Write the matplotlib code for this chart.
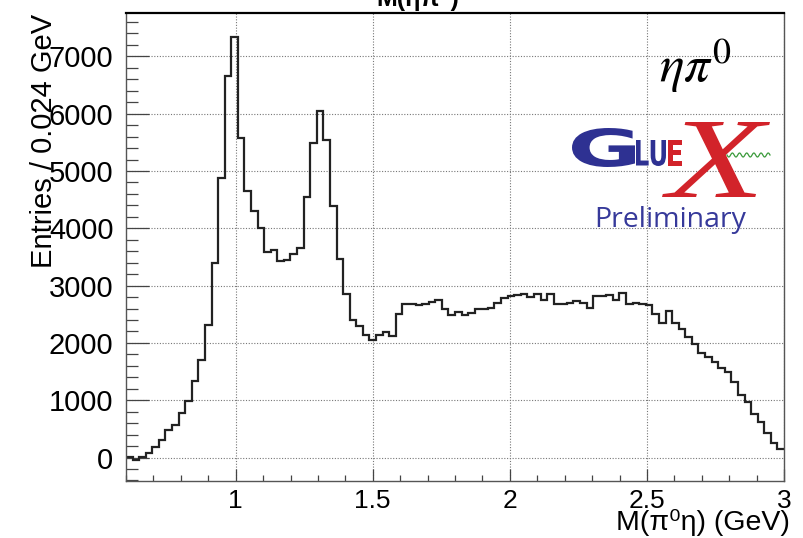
import numpy as np
import matplotlib
matplotlib.use("Agg")
import matplotlib.pyplot as plt
from matplotlib.textpath import TextPath
from matplotlib.patches import PathPatch
from matplotlib.font_manager import FontProperties
from matplotlib.transforms import Affine2D
from matplotlib.ticker import MultipleLocator

plt.rcParams['font.family'] = ['Liberation Sans', 'DejaVu Sans']

# binning of M(pi0 eta): 100 bins of 0.024 GeV
x_lo, x_hi, n_bins = 0.6, 3.0, 100

counts = [
    10, -40, 10, 70, 180, 300, 487, 568, 777, 986,
    1328, 1705, 2320, 3393, 4878, 6665, 7343, 5580, 4658, 4304,
    4002, 3585, 3615, 3427, 3450, 3555, 3654, 4545, 5494, 6040,
    5534, 4382, 3456, 2845, 2403, 2287, 2140, 2042, 2130, 2187,
    2118, 2511, 2685, 2685, 2656, 2685, 2714, 2744, 2587, 2493,
    2540, 2493, 2528, 2587, 2598, 2610, 2697, 2790, 2819, 2831,
    2860, 2800, 2860, 2744, 2850, 2685, 2674, 2697, 2726, 2697,
    2610, 2813, 2813, 2831, 2744, 2871, 2685, 2703, 2685, 2656,
    2499, 2354, 2557, 2354, 2243, 2104, 1986, 1830, 1754, 1662,
    1563, 1494, 1320, 1089, 973, 753, 625, 423, 249, 151,
]

x_ticks = [1, 1.5, 2, 2.5, 3]
x_tick_labels = ['1', '1.5', '2', '2.5', '3']
y_ticks = [0, 1000, 2000, 3000, 4000, 5000, 6000, 7000]

W, H = 804, 538
fig = plt.figure(figsize=(W / 100, H / 100), dpi=100)
ax = fig.add_axes([126 / W, 1 - 481 / H, (784 - 126) / W, (481 - 13) / H])

edges = np.linspace(x_lo, x_hi, n_bins + 1)
ax.stairs(counts, edges, baseline=None, color='#222222', lw=1.6)

ax.set_xlim(x_lo, x_hi)
ax.set_ylim(-410, 7757)
ax.set_xticks(x_ticks)
ax.set_xticklabels(x_tick_labels)
ax.set_yticks(y_ticks)
ax.xaxis.set_minor_locator(MultipleLocator(0.1))
ax.yaxis.set_minor_locator(MultipleLocator(200))
ax.tick_params(axis='x', which='major', direction='in', length=9, width=0.9,
               labelsize=19, pad=6, color='#444444')
ax.tick_params(axis='x', which='minor', direction='in', length=4.5, width=0.9,
               color='#444444')
ax.tick_params(axis='y', which='major', direction='in', length=16.5, width=0.9,
               labelsize=21, pad=9, color='#444444')
ax.tick_params(axis='y', which='minor', direction='in', length=8.5, width=0.9,
               color='#444444')
ax.grid(True, which='major', color='#777777', lw=0.8, ls=(0, (1, 1.5)))
ax.set_axisbelow(True)
for side in ['left', 'right', 'bottom']:
    ax.spines[side].set_color('#555555')
    ax.spines[side].set_linewidth(1.0)
ax.spines['top'].set_color('black')
ax.spines['top'].set_linewidth(1.6)

# axis titles, ROOT style (aligned to the axis end)
fig.text(44 / W, 1 - 14 / H, 'Entries / 0.024 GeV', rotation=90,
         ha='center', va='top', fontsize=21)
fig.text(790 / W, 1 - 530 / H, 'M(π⁰η) (GeV)', ha='right', va='baseline',
         fontsize=20.5)
fig.text(418 / W, 1 - 6 / H, 'M(ηπ⁰)', ha='center', va='baseline',
         fontsize=18, fontweight='bold')

# overlay in pixel coordinates for the label and the logo
ov = fig.add_axes([0, 0, 1, 1], zorder=5)
ov.set_xlim(0, W)
ov.set_ylim(H, 0)
ov.axis('off')
ov.patch.set_visible(False)

ov.text(659, 82, r'$\eta\pi^{0}$', fontsize=37, math_fontfamily='stix',
        ha='left', va='baseline', color='black')


def glyphs(s, box, color, prop):
    tp = TextPath((0, 0), s, size=1, prop=prop)
    ext = tp.get_extents()
    x0, y0, x1, y1 = box
    tr = (Affine2D().translate(-ext.x0, -ext.y0)
          .scale((x1 - x0) / ext.width, -(y1 - y0) / ext.height)
          .translate(x0, y1))
    ov.add_patch(PathPatch(tr.transform_path(tp), fc=color, ec='none'))


blue = '#2e3192'
red = '#d2232a'
bold = FontProperties(family='DejaVu Sans', weight='bold')
glyphs('G', (572, 128, 635, 167), blue, bold)
glyphs('LU', (636, 140, 666, 166), blue, bold)
glyphs('E', (668, 140, 682, 166), red, bold)
glyphs('X', (662, 122, 770, 197), red,
       FontProperties(family='Liberation Serif', style='italic'))

wx = np.linspace(727, 770, 120)
ov.plot(wx, 155 + 2.0 * np.sin((wx - 727) / 43 * 2 * np.pi * 6),
        color='#3a9a3a', lw=0.9)

ov.text(670, 227, 'Preliminary', fontsize=20.5, family='Open Sans',
        color='#36399a', ha='center', va='baseline')

fig.savefig('out.png', dpi=100)
